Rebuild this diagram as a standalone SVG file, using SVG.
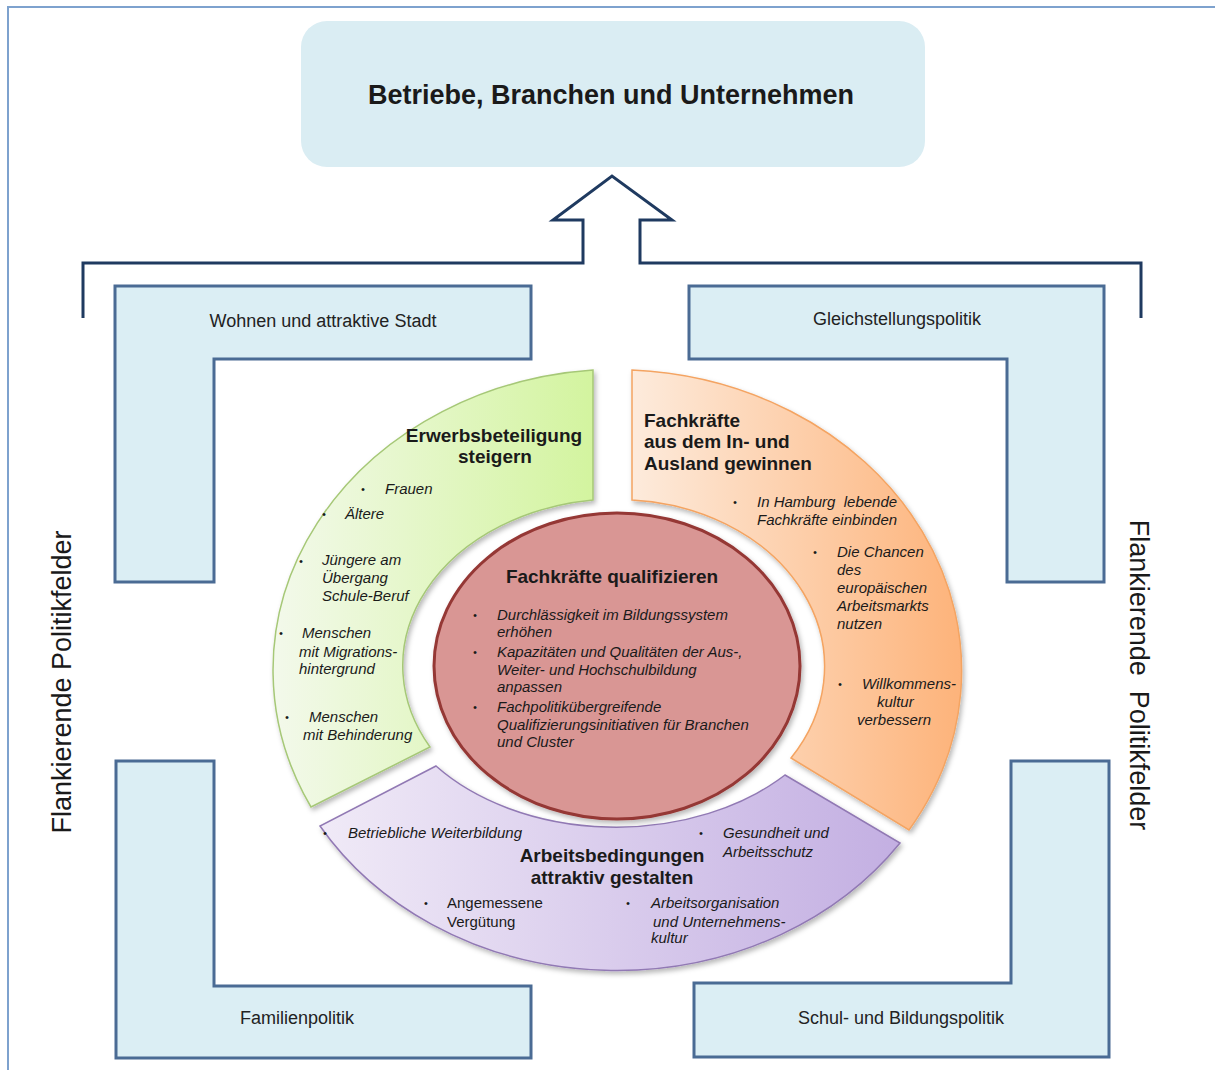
<svg xmlns="http://www.w3.org/2000/svg" width="1215" height="1070" viewBox="0 0 1215 1070">
<defs>
<style>
.t{font-family:"Liberation Sans",Arial,sans-serif;fill:#1a1a1a}
.b{font-weight:bold}
.i{font-style:italic;font-size:15px}
.r{font-size:15px}
.lab{font-size:18px;text-anchor:middle;fill:#222}
.ttl{font-size:19px;font-weight:bold}
.bul{font-size:11px}
.L{fill:#DBEEF4;stroke:#4A6B94;stroke-width:3;stroke-linejoin:miter}
</style>
<linearGradient id="gG" x1="0" y1="0" x2="1" y2="0">
<stop offset="0" stop-color="#F3F9EB"/><stop offset="1" stop-color="#D3F49F"/>
</linearGradient>
<linearGradient id="gO" x1="0" y1="0" x2="1" y2="0">
<stop offset="0" stop-color="#FDEBDC"/><stop offset="1" stop-color="#FDB37A"/>
</linearGradient>
<linearGradient id="gP" x1="0" y1="0" x2="1" y2="0">
<stop offset="0" stop-color="#F0EAF7"/><stop offset="1" stop-color="#C3AFE2"/>
</linearGradient>
<filter id="sh" x="-10%" y="-10%" width="120%" height="120%">
<feDropShadow dx="2" dy="3" stdDeviation="2.5" flood-color="#000" flood-opacity="0.28"/>
</filter>
</defs>
<rect x="0" y="0" width="1215" height="1070" fill="#fff"/>
<path d="M8,1070 V7 H1215" fill="none" stroke="#7EA2CE" stroke-width="2"/>

<g id="connectors">
<path d="M83,318 V263 H583 V220 H553 L612,176 L672,220 H640 V263 H1141 V318" fill="none" stroke="#1F3A60" stroke-width="3"/>
</g>

<g id="top">
<rect x="301" y="21" width="624" height="146" rx="26" fill="#DAEDF3"/>
<text class="t b" x="611" y="104" font-size="27" text-anchor="middle">Betriebe, Branchen und Unternehmen</text>
</g>

<g id="wohnen">
<path class="L" d="M115,286 H531 V359 H214 V582 H115 Z"/>
<text class="t lab" x="323" y="327">Wohnen und attraktive Stadt</text>
</g>
<g id="gleichstellung">
<path class="L" d="M689,286 H1104 V582 H1007 V359 H689 Z"/>
<text class="t lab" x="897" y="325">Gleichstellungspolitik</text>
</g>
<g id="familie">
<path class="L" d="M116,761 H214 V986 H531 V1058 H116 Z"/>
<text class="t lab" x="297" y="1024">Familienpolitik</text>
</g>
<g id="schule">
<path class="L" d="M694,983 H1011 V761 H1109 V1057 H694 Z"/>
<text class="t lab" x="901" y="1024">Schul- und Bildungspolitik</text>
</g>

<g id="flank-left">
<text class="t" transform="translate(71,682) rotate(-90)" font-size="27" text-anchor="middle" fill="#222">Flankierende Politikfelder</text>
</g>
<g id="flank-right">
<text class="t" transform="translate(1130,675) rotate(90)" font-size="27" text-anchor="middle" fill="#222" xml:space="preserve">Flankierende  Politikfelder</text>
</g>

<g id="erwerb">
<path d="M593,370 A347,301 0 0 0 311,807 L430,747 A216,167 0 0 1 593,500 Z" fill="url(#gG)" stroke="#A6C877" stroke-width="1.5" filter="url(#sh)"/>
<text class="t ttl" x="494" y="442" text-anchor="middle">Erwerbsbeteiligung</text>
<text class="t ttl" x="495" y="463" text-anchor="middle">steigern</text>
<g class="t i">
<text class="bul" x="361" y="493">•</text><text x="385" y="494">Frauen</text>
<text class="bul" x="322" y="518">•</text><text x="345" y="519">Ältere</text>
<text class="bul" x="299" y="565">•</text><text x="322" y="565">Jüngere am</text>
<text x="322" y="583">Übergang</text>
<text x="322" y="601">Schule-Beruf</text>
<text class="bul" x="279" y="637">•</text><text x="302" y="638">Menschen</text>
<text x="299" y="657">mit Migrations-</text>
<text x="299" y="674">hintergrund</text>
<text class="bul" x="285" y="721">•</text><text x="309" y="722">Menschen</text>
<text x="303" y="740">mit Behinderung</text>
</g>
</g>

<g id="ausland">
<path d="M632,370 A347,301 0 0 1 909,830 L791,758 A206,167 0 0 0 632,500 Z" fill="url(#gO)" stroke="#F4A462" stroke-width="1.5" filter="url(#sh)"/>
<text class="t ttl" x="644" y="427">Fachkräfte</text>
<text class="t ttl" x="644" y="448">aus dem In- und</text>
<text class="t ttl" x="644" y="470">Ausland gewinnen</text>
<g class="t i">
<text class="bul" x="733" y="506">•</text><text x="757" y="507" xml:space="preserve">In Hamburg  lebende</text>
<text x="757" y="525">Fachkräfte einbinden</text>
<text class="bul" x="813" y="556">•</text><text x="837" y="557">Die Chancen</text>
<text x="837" y="575">des</text>
<text x="837" y="593">europäischen</text>
<text x="837" y="611">Arbeitsmarkts</text>
<text x="837" y="629">nutzen</text>
<text class="bul" x="838" y="688">•</text><text x="862" y="689">Willkommens-</text>
<text x="877" y="707">kultur</text>
<text x="857" y="725">verbessern</text>
</g>
</g>

<g id="arbeit">
<path d="M320,826 A347,301 0 0 0 900,843 L785,775 A230,162 0 0 1 436,766 Z" fill="url(#gP)" stroke="#9179B4" stroke-width="1.5" filter="url(#sh)"/>
<text class="t ttl" x="612" y="862" text-anchor="middle">Arbeitsbedingungen</text>
<text class="t ttl" x="612" y="884" text-anchor="middle">attraktiv gestalten</text>
<g class="t i">
<text class="bul" x="323" y="837">•</text><text x="348" y="838">Betriebliche Weiterbildung</text>
<text class="bul" x="699" y="837">•</text><text x="723" y="838">Gesundheit und</text>
<text x="723" y="857">Arbeitsschutz</text>
<text class="bul" x="626" y="907">•</text><text x="651" y="908">Arbeitsorganisation</text>
<text x="653" y="927">und Unternehmens-</text>
<text x="651" y="943">kultur</text>
</g>
<g class="t r">
<text class="bul" x="424" y="907">•</text><text x="447" y="908">Angemessene</text>
<text x="447" y="927">Vergütung</text>
</g>
</g>

<g id="qualifizieren">
<ellipse cx="617" cy="666" rx="183" ry="153" fill="#D99694" stroke="#953735" stroke-width="3" filter="url(#sh)"/>
<text class="t ttl" x="612" y="583" text-anchor="middle">Fachkräfte qualifizieren</text>
<g class="t i">
<text class="bul" x="473" y="619">•</text><text x="497" y="620">Durchlässigkeit im Bildungssystem</text>
<text x="497" y="637">erhöhen</text>
<text class="bul" x="473" y="656">•</text><text x="497" y="657">Kapazitäten und Qualitäten der Aus-,</text>
<text x="497" y="675">Weiter- und Hochschulbildung</text>
<text x="497" y="692">anpassen</text>
<text class="bul" x="473" y="711">•</text><text x="497" y="712">Fachpolitikübergreifende</text>
<text x="497" y="730">Qualifizierungsinitiativen für Branchen</text>
<text x="497" y="747">und Cluster</text>
</g>
</g>
</svg>
